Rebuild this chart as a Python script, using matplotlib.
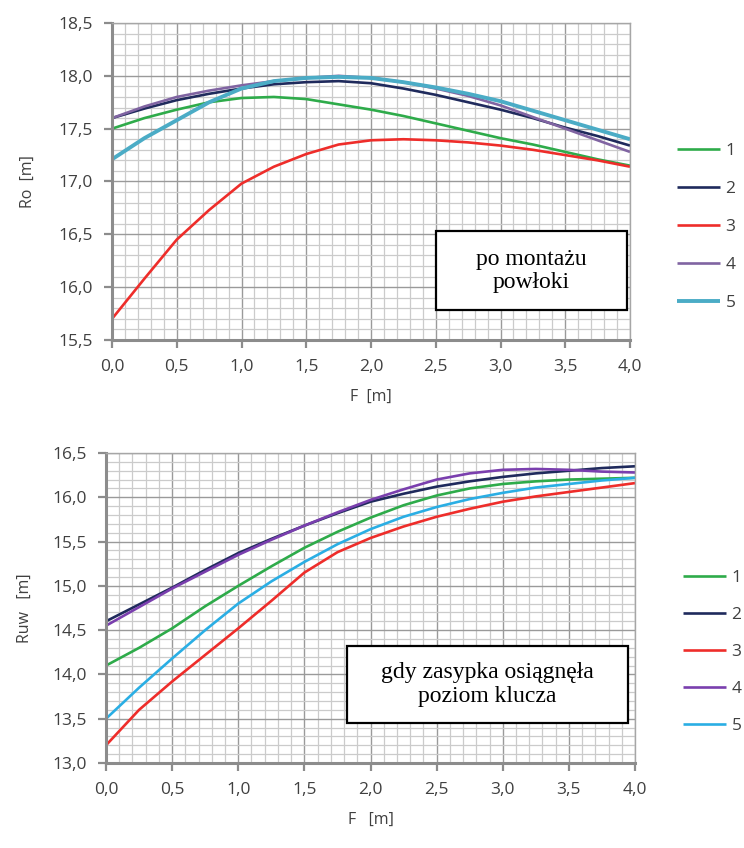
import numpy as np
import matplotlib
matplotlib.use('Agg')
import matplotlib.pyplot as plt
from matplotlib.patches import Rectangle

plt.rcParams['font.family'] = ['Open Sans', 'DejaVu Sans']

# Data
F = [0.0, 0.25, 0.5, 0.75, 1.0, 1.25, 1.5, 1.75, 2.0, 2.25, 2.5, 2.75, 3.0, 3.25, 3.5, 3.75, 4.0]
series_names = ['1', '2', '3', '4', '5']

# top chart: Ro after mounting the shell
ro_1 = [17.50, 17.60, 17.68, 17.75, 17.79, 17.80, 17.78, 17.73, 17.68, 17.62, 17.55, 17.48, 17.41, 17.35, 17.28, 17.21, 17.15]
ro_2 = [17.60, 17.69, 17.77, 17.83, 17.88, 17.92, 17.94, 17.95, 17.93, 17.88, 17.82, 17.75, 17.68, 17.60, 17.51, 17.43, 17.34]
ro_3 = [15.70, 16.08, 16.45, 16.73, 16.98, 17.14, 17.26, 17.35, 17.39, 17.40, 17.39, 17.37, 17.34, 17.30, 17.25, 17.20, 17.14]
ro_4 = [17.60, 17.71, 17.80, 17.86, 17.91, 17.95, 17.98, 18.00, 17.98, 17.94, 17.88, 17.81, 17.72, 17.61, 17.50, 17.39, 17.28]
ro_5 = [17.21, 17.41, 17.58, 17.75, 17.88, 17.95, 17.98, 17.99, 17.98, 17.94, 17.89, 17.83, 17.76, 17.67, 17.58, 17.49, 17.40]

# bottom chart: Ruw when backfill reached crown level
ruw_1 = [14.10, 14.30, 14.52, 14.77, 15.00, 15.22, 15.43, 15.61, 15.77, 15.91, 16.02, 16.10, 16.15, 16.18, 16.20, 16.21, 16.22]
ruw_2 = [14.60, 14.79, 14.98, 15.18, 15.37, 15.53, 15.68, 15.82, 15.95, 16.04, 16.12, 16.18, 16.23, 16.27, 16.30, 16.33, 16.35]
ruw_3 = [13.20, 13.60, 13.92, 14.22, 14.52, 14.83, 15.15, 15.38, 15.54, 15.67, 15.78, 15.87, 15.95, 16.01, 16.06, 16.11, 16.16]
ruw_4 = [14.55, 14.76, 14.97, 15.16, 15.35, 15.52, 15.68, 15.83, 15.97, 16.09, 16.20, 16.27, 16.31, 16.32, 16.31, 16.29, 16.28]
ruw_5 = [13.50, 13.85, 14.18, 14.50, 14.80, 15.05, 15.27, 15.47, 15.64, 15.78, 15.89, 15.98, 16.05, 16.11, 16.15, 16.19, 16.22]

x_ticks = [0.0, 0.5, 1.0, 1.5, 2.0, 2.5, 3.0, 3.5, 4.0]
ro_ticks = [15.5, 16.0, 16.5, 17.0, 17.5, 18.0, 18.5]
ruw_ticks = [13.0, 13.5, 14.0, 14.5, 15.0, 15.5, 16.0, 16.5]

top_colors = ['#2eab4a', '#1f2a5c', '#ee2d2a', '#8064a2', '#4bacc6']
top_widths = [1.9, 1.9, 1.9, 1.9, 2.8]
bot_colors = ['#2eab4a', '#1f2a5c', '#ee2d2a', '#7a3fae', '#2aaee4']
bot_widths = [1.9, 1.9, 1.9, 1.9, 1.9]


def fmt(v):
    return f"{v:.1f}".replace('.', ',')


def style_axes(ax, yticks):
    ax.set_xlim(0, 4)
    ax.set_ylim(yticks[0], yticks[-1])
    ax.set_xticks(x_ticks)
    ax.set_xticklabels([fmt(v) for v in x_ticks])
    ax.set_yticks(yticks)
    ax.set_yticklabels([fmt(v) for v in yticks])
    ax.set_xticks(np.arange(0, 4.01, 0.1), minor=True)
    ax.set_yticks(np.arange(yticks[0], yticks[-1] + 0.01, 0.1), minor=True)
    ax.grid(which='minor', color='#cbcbcb', lw=0.9)
    ax.grid(which='major', color='#9a9a9a', lw=1.0)
    ax.set_axisbelow(True)
    ax.tick_params(which='major', direction='out', length=6, width=1.6,
                   color='#8c8c8c', labelsize=12.5, labelcolor='#404040', pad=8)
    ax.tick_params(which='minor', length=0)
    for s in ['left', 'bottom']:
        ax.spines[s].set_color('#8c8c8c')
        ax.spines[s].set_linewidth(2.2)
    for s in ['top', 'right']:
        ax.spines[s].set_color('#a6a6a6')
        ax.spines[s].set_linewidth(1.0)


fig = plt.figure(figsize=(7.44, 8.48), dpi=100)

# Top chart
ax1 = fig.add_axes([112 / 744, 1 - 340 / 848, 518 / 744, 317 / 848])
style_axes(ax1, ro_ticks)
for ys, name, c, w in zip([ro_1, ro_2, ro_3, ro_4, ro_5], series_names, top_colors, top_widths):
    ax1.plot(F, ys, color=c, lw=w, label=name, solid_capstyle='butt')
ax1.set_xlabel('F  [m]', fontsize=11.5, color='#404040', labelpad=10)
ax1.set_ylabel('Ro  [m]', fontsize=11.5, color='#404040', labelpad=16)
ax1.add_patch(Rectangle((2.50, 15.78), 1.48, 0.75, facecolor='white',
                        edgecolor='black', lw=1.6, zorder=5))
ax1.text(3.24, 16.155, 'po montażu\npowłoki', ha='center', va='center',
         family='Liberation Serif', fontsize=17, linespacing=1.15, zorder=6)
fig.legend(*ax1.get_legend_handles_labels(), loc='center left',
           bbox_to_anchor=(677 / 744, 1 - 227 / 848), frameon=False,
           fontsize=12.5, handlelength=2.5, handletextpad=0.3,
           labelspacing=1.25, borderpad=0, borderaxespad=0, labelcolor='#404040')

# Bottom chart
ax2 = fig.add_axes([106 / 744, 1 - 763 / 848, 529 / 744, 310 / 848])
style_axes(ax2, ruw_ticks)
for ys, name, c, w in zip([ruw_1, ruw_2, ruw_3, ruw_4, ruw_5], series_names, bot_colors, bot_widths):
    ax2.plot(F, ys, color=c, lw=w, label=name, solid_capstyle='butt')
ax2.set_xlabel('F   [m]', fontsize=11.5, color='#404040', labelpad=10)
ax2.set_ylabel('Ruw   [m]', fontsize=11.5, color='#404040', labelpad=14)
ax2.add_patch(Rectangle((1.82, 13.45), 2.13, 0.87, facecolor='white',
                        edgecolor='black', lw=1.6, zorder=5))
ax2.text(2.885, 13.885, 'gdy zasypka osiągnęła\npoziom klucza', ha='center', va='center',
         family='Liberation Serif', fontsize=17, linespacing=1.15, zorder=6)
fig.legend(*ax2.get_legend_handles_labels(), loc='center left',
           bbox_to_anchor=(683 / 744, 1 - 652 / 848), frameon=False,
           fontsize=12.5, handlelength=2.5, handletextpad=0.3,
           labelspacing=1.2, borderpad=0, borderaxespad=0, labelcolor='#404040')

plt.savefig('out.png', dpi=100)
